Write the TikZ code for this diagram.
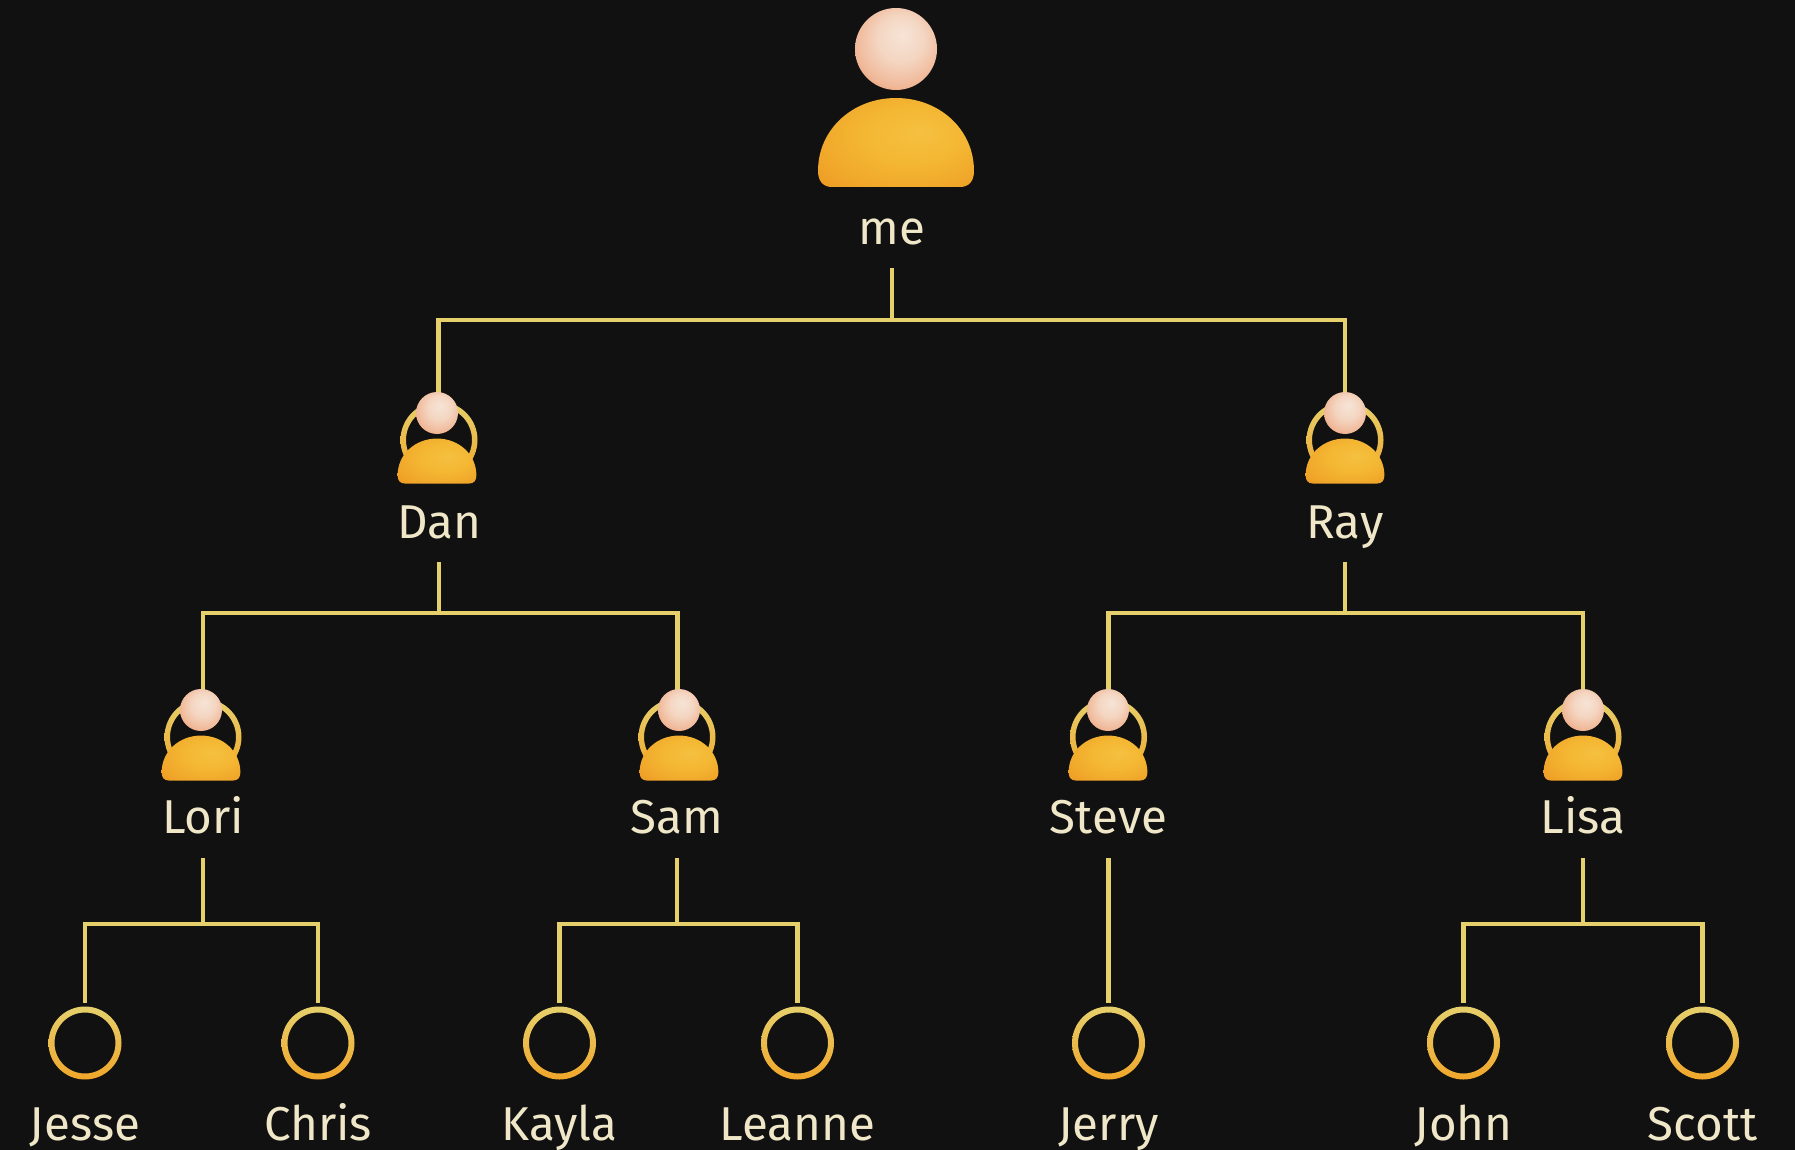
\documentclass[tikz,border=0pt]{standalone}
\usepackage{fontspec}
\setmainfont{Fira Sans}
\definecolor{bgc}{HTML}{111112}
\definecolor{wirec}{HTML}{E6D06C}
\definecolor{textc}{HTML}{EFE7C8}
\definecolor{HEAD1}{HTML}{F6E4D6}
\definecolor{HEAD2}{HTML}{F4D6C2}
\definecolor{HEAD3}{HTML}{F0B898}
\definecolor{HEAD4}{HTML}{EC8E5E}
\definecolor{BODY1}{HTML}{F5C040}
\definecolor{BODY2}{HTML}{F4B733}
\definecolor{BODY3}{HTML}{F0A62A}
\definecolor{BODY4}{HTML}{EE9A22}
\pgfdeclareradialshading{headshade}{\pgfpoint{4bp}{9bp}}{
  color(0bp)=(HEAD1); color(14bp)=(HEAD2); color(27bp)=(HEAD3); color(34bp)=(HEAD4); color(50bp)=(HEAD4)}
\pgfdeclareradialshading{bodyshade}{\pgfpoint{8bp}{6bp}}{
  color(0bp)=(BODY1); color(16bp)=(BODY2); color(30bp)=(BODY3); color(38bp)=(BODY4); color(50bp)=(BODY4)}
\tikzset{
  x=1pt,y=-1pt,
  wire/.style={draw=wirec,line width=4.5pt},
  lbl/.style={text=textc,font=\fontsize{47.5}{48}\selectfont,anchor=base,inner sep=0pt},
  headnode/.style={circle,inner sep=0pt,minimum size=#1,shade,shading=headshade},
  anchorring/.style={circle,inner sep=0pt,minimum size=#1},
  bodyfill/.style={shade,shading=bodyshade}
}
% #1 x, #2 bottom y, #3 scale
\newcommand\bodypath[3]{%
  \path[bodyfill,shift={(#1,#2)},scale=#3]
    (-64,0) .. controls (-73,0) and (-78,-6) .. (-78,-16)
    .. controls (-78,-58) and (-43,-89) .. (0,-89)
    .. controls (43,-89) and (78,-58) .. (78,-16)
    .. controls (78,-6) and (73,0) .. (64,0) -- cycle;}
% #1 ring centre x, #2 ring centre y, #3 outer radius, #4 inner radius
\newcommand\goldring[4]{%
  \path[shade,even odd rule,top color=wirec,bottom color=BODY3]
    (#1,#2) circle[radius=#3] (#1,#2) circle[radius=#4];}
% #1 name, #2 head x, #3 head y, #4 ring and label x, #5 label text, #6 baseline
\newcommand\midperson[6]{%
  \goldring{#4}{#3+27}{38.5}{33}
  \node[headnode=42pt] (#1) at (#2,#3) {};
  \bodypath{#2}{#3+70.5}{0.505}
  \node[lbl] (#1-l) at (#4,#6) {#5};}
% #1 name, #2 x, #3 label
\newcommand\leaf[3]{%
  \node[anchorring=72pt,outer sep=4pt] (#1) at (#2,1043) {};
  \goldring{#2}{1043}{36.5}{30.5}
  \node[lbl] (#1-l) at (#2,1140) {#3};}
\begin{document}
\begin{tikzpicture}
\useasboundingbox (0,0) rectangle (1795,1150);
\fill[bgc] (0,0) rectangle (1795,1150);
% bus junctions
\coordinate (busme) at (892,320);
\coordinate (busdan) at (439,613);
\coordinate (busray) at (1345,613);
\coordinate (buslori) at (203,924);
\coordinate (bussam) at (677,924);
\coordinate (buslisa) at (1583,924);
% wires that run behind the heads
\coordinate (danT) at (438.5,413);
\coordinate (rayT) at (1345,413);
\coordinate (loriT) at (203,710);
\coordinate (samT) at (677.5,710);
\coordinate (steveT) at (1108.5,710);
\coordinate (lisaT) at (1583,710);
\draw[wire] (danT) |- (busme) -| (rayT);
\draw[wire] (loriT) |- (busdan) -| (samT);
\draw[wire] (steveT) |- (busray) -| (lisaT);
% people
\node[headnode=82pt] (me) at (896,49) {};
\bodypath{896}{187}{1}
\node[lbl] (me-l) at (892,245) {me};
\midperson{dan}{437}{413}{439}{Dan}{538}
\midperson{ray}{1345}{413}{1345}{Ray}{538}
\midperson{lori}{201}{710}{203}{Lori}{833}
\midperson{sam}{679}{710}{677}{Sam}{833}
\midperson{steve}{1108}{710}{1108.5}{Steve}{833}
\midperson{lisa}{1583}{710}{1583}{Lisa}{833}
\leaf{jesse}{85}{Jesse}
\leaf{chris}{318}{Chris}
\leaf{kayla}{559.5}{Kayla}
\leaf{leanne}{797.5}{Leanne}
\leaf{jerry}{1108.5}{Jerry}
\leaf{john}{1463.5}{John}
\leaf{scott}{1702.5}{Scott}
% stems and buses
\draw[wire] ([yshift=-23pt]me-l.base) -- (busme);
\draw[wire] ([yshift=-24pt]dan-l.base) -- (busdan);
\draw[wire] ([yshift=-24pt]ray-l.base) -- (busray);
\draw[wire] ([yshift=-25pt]lori-l.base) -- (buslori);
\draw[wire] ([yshift=-25pt]sam-l.base) -- (bussam);
\draw[wire] ([yshift=-25pt]lisa-l.base) -- (buslisa);
\draw[wire] ([yshift=-25pt]steve-l.base) -- (jerry.north);
\draw[wire] (jesse.north) |- (buslori) -| (chris.north);
\draw[wire] (kayla.north) |- (bussam) -| (leanne.north);
\draw[wire] (john.north) |- (buslisa) -| (scott.north);
\end{tikzpicture}
\end{document}
